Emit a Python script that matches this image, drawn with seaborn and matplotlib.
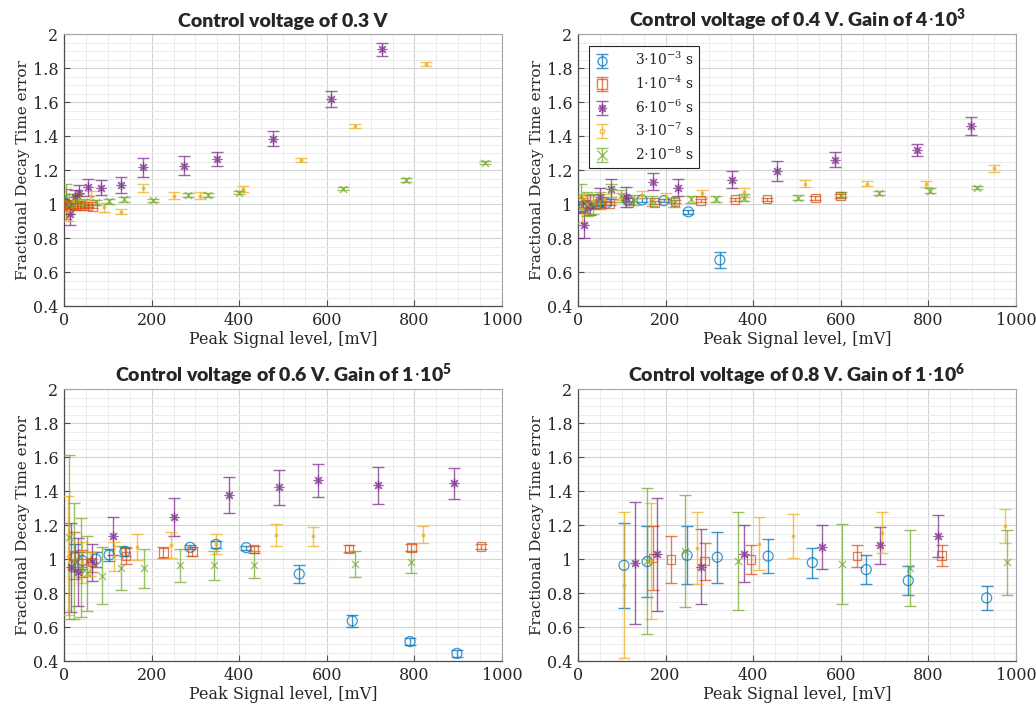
import numpy as np
import matplotlib as mpl
mpl.use("Agg")
import matplotlib.pyplot as plt
from matplotlib.ticker import MultipleLocator, FormatStrFormatter
import seaborn as sns

sns.set_theme(style="whitegrid")
plt.rcParams["font.family"] = ["DejaVu Serif"]
plt.rcParams["mathtext.fontset"] = "custom"
plt.rcParams["mathtext.rm"] = "DejaVu Serif"
plt.rcParams["mathtext.bf"] = "Lato:heavy"

# ---------------------------------------------------
# series (decay times) shared by all panels
# ---------------------------------------------------
series_labels = [r"3$\cdot$10$^{-3}$ s", r"1$\cdot$10$^{-4}$ s", r"6$\cdot$10$^{-6}$ s",
                 r"3$\cdot$10$^{-7}$ s", r"2$\cdot$10$^{-8}$ s"]
series_colors = ["#0072BD", "#D95319", "#7E2F8E", "#EDB120", "#77AC30"]

titles = [
    "Control voltage of 0.3 V",
    r"Control voltage of 0.4 V. Gain of 4$\cdot$10$^{\mathbf{3}}$",
    r"Control voltage of 0.6 V. Gain of 1$\cdot$10$^{\mathbf{5}}$",
    r"Control voltage of 0.8 V. Gain of 1$\cdot$10$^{\mathbf{6}}$",
]

# ---------------------------------------------------
# panel 1 : 0.3 V
# ---------------------------------------------------
v03_circ_x = [2, 4, 6]
v03_circ_y = [1.005, 1.0, 0.998]
v03_circ_e = [0.012, 0.01, 0.01]
v03_sq_x = [5, 10, 15, 22, 30, 38, 46, 55, 65]
v03_sq_y = [1.0, 0.995, 0.99, 0.99, 0.99, 0.99, 0.99, 0.99, 0.985]
v03_sq_e = [0.09, 0.03, 0.02, 0.015, 0.015, 0.012, 0.012, 0.01, 0.01]
v03_ast_x = [14, 25, 34, 54, 84, 131, 180, 275, 350, 477, 610, 727]
v03_ast_y = [0.94, 1.04, 1.064, 1.099, 1.097, 1.113, 1.215, 1.226, 1.264, 1.384, 1.617, 1.91]
v03_ast_e = [0.065, 0.04, 0.047, 0.05, 0.045, 0.046, 0.054, 0.055, 0.04, 0.044, 0.046, 0.037]
v03_dot_x = [8, 20, 35, 61, 92, 130, 181, 250, 310, 409, 541, 665, 826]
v03_dot_y = [0.96, 1.02, 1.03, 1.05, 0.981, 0.954, 1.093, 1.05, 1.048, 1.089, 1.26, 1.46, 1.825]
v03_dot_e = [0.06, 0.04, 0.03, 0.025, 0.025, 0.015, 0.025, 0.02, 0.02, 0.017, 0.013, 0.012, 0.012]
v03_x_x = [5, 12, 30, 45, 72, 102, 137, 203, 284, 329, 399, 637, 781, 960]
v03_x_y = [1.05, 1.0, 1.02, 1.01, 1.01, 1.015, 1.028, 1.022, 1.054, 1.054, 1.067, 1.091, 1.142, 1.244]
v03_x_e = [0.07, 0.06, 0.03, 0.02, 0.015, 0.015, 0.015, 0.01, 0.012, 0.01, 0.01, 0.01, 0.01, 0.01]

# ---------------------------------------------------
# panel 2 : 0.4 V
# ---------------------------------------------------
v04_circ_x = [8, 23, 46, 65, 114, 146, 196, 252, 324]
v04_circ_y = [0.98, 0.99, 1.0, 1.005, 1.024, 1.024, 1.02, 0.954, 0.671]
v04_circ_e = [0.02, 0.015, 0.01, 0.01, 0.01, 0.01, 0.01, 0.01, 0.045]
v04_sq_x = [11, 19, 32, 50, 72, 117, 175, 222, 280, 358, 431, 542, 599]
v04_sq_y = [0.995, 1.0, 0.993, 1.0, 1.003, 1.01, 1.01, 1.015, 1.02, 1.026, 1.028, 1.036, 1.048]
v04_sq_e = [0.04, 0.02, 0.015, 0.015, 0.01, 0.01, 0.01, 0.01, 0.01, 0.01, 0.01, 0.01, 0.01]
v04_ast_x = [13, 27, 51, 75, 109, 172, 229, 352, 454, 586, 775, 897]
v04_ast_y = [0.875, 0.995, 1.044, 1.09, 1.042, 1.132, 1.095, 1.142, 1.193, 1.26, 1.319, 1.46]
v04_ast_e = [0.075, 0.06, 0.05, 0.06, 0.06, 0.05, 0.05, 0.05, 0.06, 0.045, 0.035, 0.055]
v04_dot_x = [10, 20, 35, 60, 99, 146, 202, 283, 378, 519, 659, 794, 950]
v04_dot_y = [0.97, 1.0, 1.02, 1.03, 1.044, 1.054, 1.04, 1.064, 1.068, 1.12, 1.12, 1.118, 1.211]
v04_dot_e = [0.08, 0.06, 0.04, 0.03, 0.02, 0.02, 0.025, 0.02, 0.025, 0.02, 0.015, 0.02, 0.02]
v04_x_x = [8, 20, 35, 50, 75, 99, 129, 169, 219, 257, 314, 378, 502, 600, 688, 803, 912]
v04_x_y = [1.05, 1.0, 1.0, 1.02, 1.08, 1.045, 1.025, 1.017, 1.009, 1.028, 1.03, 1.038, 1.036,
           1.054, 1.064, 1.079, 1.097]
v04_x_e = [0.07, 0.07, 0.06, 0.05, 0.04, 0.035, 0.03, 0.03, 0.025, 0.02, 0.02, 0.02, 0.015,
           0.015, 0.01, 0.015, 0.01]

# ---------------------------------------------------
# panel 3 : 0.6 V
# ---------------------------------------------------
v06_circ_x = [25, 42, 73, 103, 139, 288, 347, 416, 537, 658, 790, 897]
v06_circ_y = [1.009, 0.991, 0.999, 1.024, 1.044, 1.069, 1.086, 1.067, 0.912, 0.636, 0.514, 0.445]
v06_circ_e = [0.08, 0.05, 0.045, 0.035, 0.025, 0.012, 0.02, 0.012, 0.055, 0.035, 0.02, 0.02]
v06_sq_x = [23, 40, 64, 142, 227, 293, 433, 650, 793, 952]
v06_sq_y = [1.02, 0.975, 0.981, 1.018, 1.038, 1.044, 1.058, 1.06, 1.068, 1.073]
v06_sq_e = [0.14, 0.08, 0.06, 0.045, 0.03, 0.025, 0.02, 0.02, 0.02, 0.015]
v06_ast_x = [17, 33, 64, 112, 251, 376, 491, 580, 717, 891]
v06_ast_y = [0.951, 0.925, 0.981, 1.136, 1.248, 1.378, 1.421, 1.464, 1.433, 1.446]
v06_ast_e = [0.26, 0.2, 0.11, 0.11, 0.113, 0.105, 0.105, 0.097, 0.108, 0.092]
v06_dot_x = [10, 40, 60, 113, 167, 245, 347, 484, 568, 819]
v06_dot_y = [1.02, 0.98, 0.97, 1.015, 1.07, 1.083, 1.088, 1.143, 1.133, 1.143]
v06_dot_e = [0.35, 0.12, 0.07, 0.085, 0.075, 0.075, 0.06, 0.065, 0.055, 0.05]
v06_x_x = [12, 23, 39, 53, 86, 131, 182, 264, 342, 433, 664, 792]
v06_x_y = [1.13, 0.99, 0.95, 0.916, 0.903, 0.946, 0.946, 0.962, 0.963, 0.967, 0.971, 0.985]
v06_x_e = [0.48, 0.34, 0.29, 0.22, 0.17, 0.13, 0.115, 0.095, 0.085, 0.08, 0.075, 0.065]

# ---------------------------------------------------
# panel 4 : 0.8 V
# ---------------------------------------------------
v08_circ_x = [105, 158, 249, 318, 434, 535, 658, 754, 933]
v08_circ_y = [0.963, 0.985, 1.022, 1.011, 1.017, 0.979, 0.938, 0.873, 0.771]
v08_circ_e = [0.25, 0.21, 0.17, 0.15, 0.098, 0.088, 0.083, 0.085, 0.069]
v08_sq_x = [171, 213, 289, 395, 637, 830]
v08_sq_y = [1.005, 0.997, 0.987, 0.997, 1.016, 1.02]
v08_sq_e = [0.19, 0.137, 0.11, 0.083, 0.064, 0.06]
v08_ast_x = [131, 181, 280, 378, 557, 690, 821]
v08_ast_y = [0.977, 1.027, 0.954, 1.032, 1.071, 1.081, 1.136]
v08_ast_e = [0.36, 0.33, 0.22, 0.17, 0.13, 0.11, 0.125]
v08_dot_x = [104, 166, 271, 414, 492, 693, 974]
v08_dot_y = [0.845, 0.99, 1.066, 1.09, 1.136, 1.156, 1.197]
v08_dot_e = [0.43, 0.34, 0.21, 0.155, 0.13, 0.12, 0.1]
v08_x_x = [158, 244, 366, 602, 759, 979]
v08_x_y = [0.989, 1.048, 0.989, 0.971, 0.946, 0.981]
v08_x_e = [0.43, 0.33, 0.29, 0.235, 0.225, 0.19]

panels = [
    [(v03_circ_x, v03_circ_y, v03_circ_e), (v03_sq_x, v03_sq_y, v03_sq_e),
     (v03_ast_x, v03_ast_y, v03_ast_e), (v03_dot_x, v03_dot_y, v03_dot_e),
     (v03_x_x, v03_x_y, v03_x_e)],
    [(v04_circ_x, v04_circ_y, v04_circ_e), (v04_sq_x, v04_sq_y, v04_sq_e),
     (v04_ast_x, v04_ast_y, v04_ast_e), (v04_dot_x, v04_dot_y, v04_dot_e),
     (v04_x_x, v04_x_y, v04_x_e)],
    [(v06_circ_x, v06_circ_y, v06_circ_e), (v06_sq_x, v06_sq_y, v06_sq_e),
     (v06_ast_x, v06_ast_y, v06_ast_e), (v06_dot_x, v06_dot_y, v06_dot_e),
     (v06_x_x, v06_x_y, v06_x_e)],
    [(v08_circ_x, v08_circ_y, v08_circ_e), (v08_sq_x, v08_sq_y, v08_sq_e),
     (v08_ast_x, v08_ast_y, v08_ast_e), (v08_dot_x, v08_dot_y, v08_dot_e),
     (v08_x_x, v08_x_y, v08_x_e)],
]

# marker styles, MATLAB-like: o, s, *, ., x
ASTERISK = (8, 2, 0)
marker_kw = [
    dict(marker="o", s=52, facecolor="none", edgecolor=series_colors[0], linewidth=0.9),
    dict(marker="s", s=36, facecolor="none", edgecolor=series_colors[1], linewidth=0.9),
    dict(marker=ASTERISK, s=40, color=series_colors[2], linewidth=0.9),
    dict(marker="o", s=5, color=series_colors[3], edgecolor=series_colors[3], linewidth=0.5),
    dict(marker="x", s=26, color=series_colors[4], linewidth=0.9),
]
legend_markers = ["o", "s", ASTERISK, ".", "x"]

ALPHA = 0.75

# ---------------------------------------------------
# figure
# ---------------------------------------------------
fig = plt.figure(figsize=(10.36, 7.10), dpi=100)
positions = [
    [0.0618, 0.569, 0.4228, 0.383],
    [0.5579, 0.569, 0.4228, 0.383],
    [0.0618, 0.069, 0.4228, 0.383],
    [0.5579, 0.069, 0.4228, 0.383],
]

for k, (pos, title, data) in enumerate(zip(positions, titles, panels)):
    ax = fig.add_axes(pos)
    for i, (xs, ys, es) in enumerate(data):
        ax.errorbar(xs, ys, yerr=es, fmt="none", ecolor=series_colors[i],
                    elinewidth=1.0, capsize=4.5, capthick=1.0, alpha=ALPHA, zorder=3)
        sns.scatterplot(x=xs, y=ys, ax=ax, alpha=ALPHA, zorder=4, legend=False,
                        **marker_kw[i])

    ax.set_xlim(0, 1000)
    ax.set_ylim(0.4, 2)
    ax.xaxis.set_major_locator(MultipleLocator(200))
    ax.xaxis.set_minor_locator(MultipleLocator(50))
    ax.yaxis.set_major_locator(MultipleLocator(0.2))
    ax.yaxis.set_minor_locator(MultipleLocator(0.05))
    ax.yaxis.set_major_formatter(FormatStrFormatter("%g"))
    ax.xaxis.set_major_formatter(FormatStrFormatter("%g"))

    ax.grid(True, which="major", color="#d4d4d4", linewidth=0.8)
    ax.grid(True, which="minor", color="#ececec", linewidth=0.7)
    ax.set_axisbelow(True)
    ax.set_facecolor("white")
    for side in ["left", "bottom"]:
        ax.spines[side].set_color("#4d4d4d")
        ax.spines[side].set_linewidth(0.9)
    for side in ["top", "right"]:
        ax.spines[side].set_color("#a6a6a6")
        ax.spines[side].set_linewidth(0.8)
    ax.tick_params(axis="both", which="major", direction="in", length=4, width=0.8,
                   colors="#4d4d4d", labelcolor="#262626", labelsize=11.5,
                   left=True, bottom=True, pad=4)
    ax.tick_params(axis="both", which="minor", length=0)

    ax.set_xlabel("Peak Signal level, [mV]", fontsize=11.5, color="#262626", labelpad=2)
    ax.set_ylabel("Fractional Decay Time error", fontsize=11, color="#262626", labelpad=2)
    ax.set_title(title, fontsize=14, fontweight="heavy", family="Lato", pad=5)

    if k == 1:
        handles = []
        for i in range(5):
            h = ax.errorbar([np.nan], [np.nan], yerr=[np.nan], fmt="",
                            marker=legend_markers[i], linestyle="none",
                            color=series_colors[i], mfc="none", markersize=6.5,
                            elinewidth=1.0, capsize=4.5, alpha=ALPHA)
            handles.append(h)
        leg = ax.legend(handles, series_labels, loc="upper left",
                        bbox_to_anchor=(0.025, 0.955), borderaxespad=0,
                        fontsize=10, frameon=True, fancybox=False, framealpha=1,
                        edgecolor="#262626", handlelength=1.2, handletextpad=1.8,
                        labelspacing=0.45, borderpad=0.35)
        leg.get_frame().set_linewidth(0.8)

plt.savefig("out.png", dpi=100)
plt.close()
